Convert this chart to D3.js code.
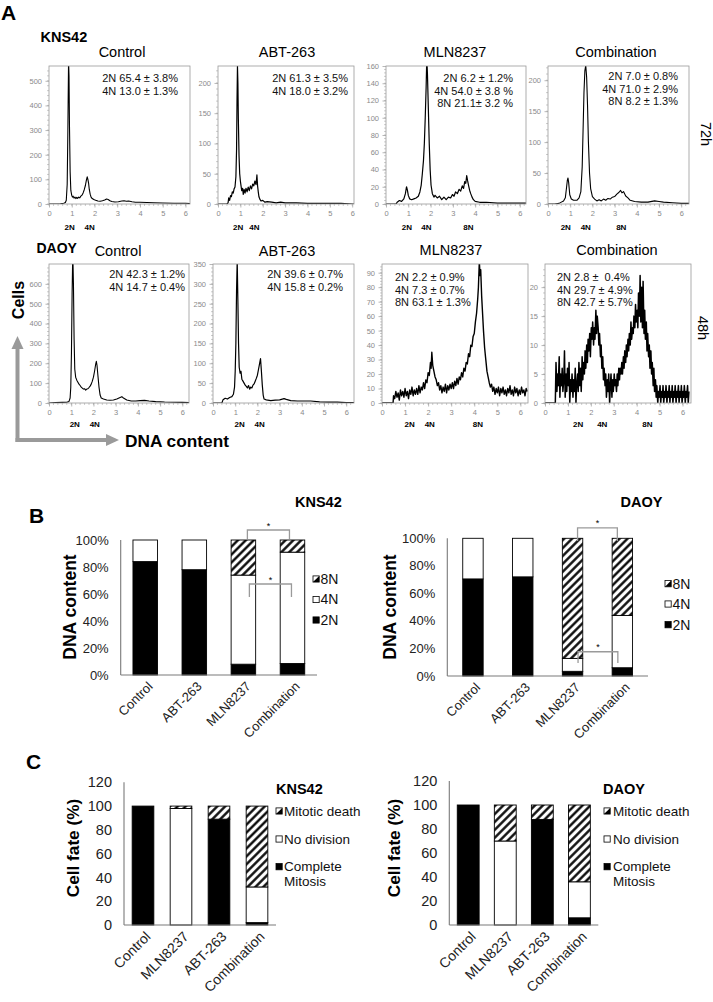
<!DOCTYPE html>
<html>
<head>
<meta charset="utf-8">
<script src="https://cdn.jsdelivr.net/npm/d3@7"></script>
<style>
  body { margin: 0; background: #fff; }
  text { font-family: "Liberation Sans", Arial, sans-serif; white-space: pre; }
</style>
</head>
<body>
<svg id="fig" width="713" height="1002"></svg>
<script>
// ---------- panel A: flow cytometry histograms ----------
const histTitles = ['Control', 'ABT-263', 'MLN8237', 'Combination'];
const cellLines = ['KNS42', 'DAOY'];
const timeLabels = ['72h', '48h'];

// traces as [DNA content, cells]
const knsControlTrace = [[0,0],[0.3,0],[0.5,1],[0.65,3],[0.72,6],[0.76,15],[0.8,80],[0.83,300],[0.86,580],[0.88,520],[0.9,320],[0.93,130],[0.96,55],[1.0,35],[1.03,28],[1.06,32],[1.1,24],[1.14,28],[1.18,22],[1.22,27],[1.26,23],[1.3,28],[1.35,25],[1.4,32],[1.45,36],[1.5,45],[1.55,58],[1.6,75],[1.64,95],[1.68,110],[1.71,100],[1.74,85],[1.77,60],[1.81,40],[1.85,28],[1.9,22],[1.97,18],[2.05,15],[2.15,12],[2.25,11],[2.35,13],[2.45,16],[2.53,20],[2.6,18],[2.68,13],[2.76,10],[2.9,8],[3.05,9],[3.2,12],[3.3,13],[3.4,11],[3.5,12],[3.65,9],[3.8,7],[4.0,7],[4.3,6],[4.6,5],[5.0,4],[5.5,3],[6.0,3],[6.2,2]];
const knsAbtTrace = [[0,0],[0.4,0],[0.45,2],[0.48,10],[0.52,6],[0.56,14],[0.6,12],[0.64,20],[0.68,18],[0.72,25],[0.76,28],[0.8,45],[0.83,90],[0.85,170],[0.87,228],[0.89,200],[0.91,140],[0.94,80],[0.97,50],[1.0,38],[1.03,30],[1.06,22],[1.1,26],[1.13,16],[1.17,24],[1.21,18],[1.25,26],[1.3,20],[1.35,28],[1.4,22],[1.45,30],[1.5,25],[1.55,33],[1.6,30],[1.65,38],[1.7,32],[1.74,48],[1.77,30],[1.8,20],[1.83,12],[1.87,8],[1.92,5],[2.0,6],[2.1,3],[2.2,4],[2.4,3],[2.6,2],[2.8,3],[3.0,2],[3.2,2],[3.5,2],[4.0,1],[4.5,1],[5.0,1],[5.5,1],[6.0,0],[6.08,0]];
const knsMlnTrace = [[0,0],[0.45,0],[0.5,2],[0.6,4],[0.7,3],[0.8,6],[0.87,12],[0.92,20],[0.96,16],[1.0,10],[1.06,6],[1.15,5],[1.25,6],[1.35,7],[1.45,9],[1.52,14],[1.58,22],[1.63,35],[1.68,50],[1.72,70],[1.76,100],[1.8,135],[1.83,170],[1.86,150],[1.9,110],[1.94,70],[1.98,40],[2.02,22],[2.08,12],[2.15,8],[2.2,10],[2.3,7],[2.4,9],[2.5,5],[2.6,8],[2.7,5],[2.8,8],[2.9,7],[2.98,11],[3.05,9],[3.12,14],[3.2,12],[3.28,17],[3.35,15],[3.42,21],[3.48,18],[3.53,26],[3.58,24],[3.62,33],[3.66,27],[3.7,22],[3.75,16],[3.8,12],[3.86,8],[3.92,5],[4.0,3],[4.2,2],[4.5,2],[5.0,1],[5.5,1],[6.0,1],[6.28,1]];
const knsComboTrace = [[0,0],[0.3,0],[0.5,1],[0.6,3],[0.7,5],[0.78,10],[0.83,25],[0.87,38],[0.9,42],[0.93,35],[0.98,15],[1.05,8],[1.15,6],[1.3,6],[1.4,10],[1.48,20],[1.54,60],[1.58,120],[1.62,180],[1.66,215],[1.7,224],[1.74,205],[1.78,160],[1.82,100],[1.87,50],[1.92,25],[2.0,12],[2.1,8],[2.2,5],[2.3,7],[2.4,5],[2.5,8],[2.6,6],[2.7,9],[2.8,8],[2.9,11],[3.0,12],[3.1,16],[3.2,19],[3.27,22],[3.33,18],[3.4,20],[3.5,13],[3.6,10],[3.7,6],[3.9,4],[4.2,3],[4.5,3],[4.8,5],[5.0,4],[5.2,3],[5.6,2],[6.0,1],[6.35,1]];
const daoyControlTrace = [[0,0],[0.3,2],[0.6,3],[0.8,4],[0.9,8],[0.95,25],[0.98,80],[1.01,250],[1.04,550],[1.07,760],[1.1,600],[1.13,320],[1.16,170],[1.2,130],[1.25,115],[1.3,105],[1.35,95],[1.4,88],[1.45,80],[1.5,75],[1.55,70],[1.6,72],[1.65,65],[1.7,70],[1.75,72],[1.8,78],[1.85,85],[1.9,95],[1.95,110],[2.0,130],[2.05,160],[2.1,195],[2.13,210],[2.16,190],[2.2,140],[2.25,80],[2.3,40],[2.35,25],[2.45,20],[2.6,15],[2.75,14],[2.9,15],[3.05,20],[3.2,28],[3.28,32],[3.35,25],[3.5,15],[3.7,10],[3.9,10],[4.1,12],[4.3,13],[4.5,10],[4.8,7],[5.2,5],[5.6,4],[6.0,3],[6.3,2]];
const daoyAbtTrace = [[0,0],[0.4,0],[0.45,8],[0.55,12],[0.65,10],[0.75,14],[0.85,16],[0.92,22],[0.97,40],[1.0,80],[1.03,150],[1.06,280],[1.09,360],[1.12,260],[1.15,150],[1.18,90],[1.22,75],[1.26,80],[1.3,60],[1.35,55],[1.4,50],[1.45,45],[1.5,42],[1.55,38],[1.6,44],[1.65,35],[1.7,40],[1.75,38],[1.8,45],[1.85,48],[1.9,55],[1.95,62],[2.0,70],[2.05,85],[2.1,100],[2.14,112],[2.18,80],[2.22,45],[2.26,20],[2.3,10],[2.4,8],[2.6,6],[2.8,7],[3.0,8],[3.2,11],[3.3,9],[3.5,6],[3.8,5],[4.1,5],[4.4,5],[4.8,3],[5.2,2],[5.6,2],[6.0,1],[6.35,1]];
const daoyMlnTrace = [[0,0],[0.48,0],[0.5,5],[0.55,3],[0.6,8],[0.65,4],[0.7,7],[0.75,2],[0.8,9],[0.85,5],[0.9,8],[0.95,4],[1.0,10],[1.05,5],[1.1,8],[1.15,3],[1.2,9],[1.25,6],[1.3,11],[1.35,5],[1.4,9],[1.45,6],[1.5,10],[1.55,6],[1.6,12],[1.65,7],[1.7,11],[1.75,9],[1.8,14],[1.85,10],[1.9,16],[1.95,14],[2.0,21],[2.05,19],[2.1,28],[2.13,24],[2.16,35],[2.2,26],[2.25,22],[2.3,18],[2.35,16],[2.4,12],[2.45,14],[2.5,9],[2.55,12],[2.6,7],[2.65,11],[2.7,8],[2.75,13],[2.8,7],[2.85,12],[2.9,9],[2.95,13],[3.0,10],[3.05,14],[3.1,10],[3.15,15],[3.2,12],[3.25,17],[3.3,13],[3.35,18],[3.4,16],[3.45,21],[3.5,18],[3.55,24],[3.6,22],[3.65,28],[3.7,27],[3.75,34],[3.8,32],[3.85,40],[3.9,39],[3.95,46],[4.0,48],[4.05,56],[4.1,62],[4.15,72],[4.18,80],[4.22,98],[4.25,88],[4.28,92],[4.32,74],[4.36,62],[4.4,50],[4.45,38],[4.5,30],[4.55,22],[4.6,18],[4.65,14],[4.7,11],[4.75,13],[4.8,8],[4.85,11],[4.9,6],[4.95,10],[5.0,7],[5.05,11],[5.1,5],[5.15,10],[5.2,7],[5.25,11],[5.3,6],[5.35,9],[5.4,5],[5.45,10],[5.5,7],[5.55,12],[5.6,6],[5.65,9],[5.7,5],[5.75,11],[5.8,7],[5.85,10],[5.9,5],[5.95,9],[6.0,6],[6.05,11],[6.1,7],[6.15,9],[6.2,5],[6.25,10],[6.3,8]];
const daoyComboTrace = [[0,0],[0.45,0],[0.48,7],[0.52,2],[0.55,5],[0.58,3],[0.62,8],[0.65,1],[0.68,5],[0.72,3],[0.75,6],[0.78,2],[0.82,4],[0.85,9],[0.88,1],[0.92,5],[0.95,2],[0.98,6],[1.02,3],[1.05,7],[1.08,0],[1.12,4],[1.15,2],[1.18,5],[1.22,1],[1.25,4],[1.28,2],[1.32,6],[1.35,0],[1.38,3],[1.42,5],[1.45,2],[1.48,7],[1.52,3],[1.55,6],[1.58,2],[1.62,8],[1.65,4],[1.68,7],[1.72,5],[1.75,9],[1.78,6],[1.82,10],[1.85,7],[1.88,11],[1.92,9],[1.95,12],[1.98,8],[2.02,13],[2.05,11],[2.08,14],[2.12,10],[2.15,13],[2.18,11],[2.22,16],[2.25,12],[2.28,15],[2.32,13],[2.35,10],[2.38,12],[2.42,8],[2.45,10],[2.48,6],[2.52,8],[2.55,4],[2.58,6],[2.62,3],[2.65,5],[2.68,1],[2.72,4],[2.75,2],[2.78,5],[2.82,0],[2.85,3],[2.88,5],[2.92,1],[2.95,4],[2.98,2],[3.02,5],[3.05,3],[3.08,4],[3.12,2],[3.15,5],[3.18,3],[3.22,6],[3.25,4],[3.28,6],[3.32,5],[3.35,7],[3.38,5],[3.42,8],[3.45,6],[3.48,9],[3.52,7],[3.55,10],[3.58,8],[3.62,11],[3.65,9],[3.68,12],[3.72,10],[3.75,14],[3.78,11],[3.82,13],[3.85,12],[3.88,15],[3.92,13],[3.95,17],[3.98,14],[4.02,16],[4.05,13],[4.08,19],[4.12,15],[4.15,22],[4.18,14],[4.22,20],[4.25,13],[4.28,21],[4.32,12],[4.35,16],[4.38,11],[4.42,14],[4.45,9],[4.48,12],[4.52,8],[4.55,10],[4.58,6],[4.62,9],[4.65,5],[4.68,7],[4.72,3],[4.75,6],[4.78,2],[4.82,4],[4.85,1],[4.88,3],[4.92,0],[4.95,2],[4.98,1],[5.02,3],[5.05,0],[5.08,2],[5.12,1],[5.15,3],[5.18,0],[5.22,2],[5.25,1],[5.28,3],[5.32,0],[5.35,2],[5.38,1],[5.42,3],[5.45,0],[5.48,2],[5.52,1],[5.55,3],[5.58,0],[5.62,2],[5.65,1],[5.68,3],[5.72,0],[5.75,2],[5.78,1],[5.82,3],[5.85,0],[5.88,2],[5.92,1],[5.95,3],[5.98,0],[6.02,2],[6.05,1],[6.08,3],[6.12,0],[6.15,2],[6.18,1],[6.22,3],[6.25,0],[6.28,2]];

const histStats = [
  ['2N 65.4 ± 3.8%', '4N 13.0 ± 1.3%'],
  ['2N 61.3 ± 3.5%', '4N 18.0 ± 3.2%'],
  ['2N 6.2 ± 1.2%', '4N 54.0 ± 3.8 %', '8N 21.1± 3.2 %'],
  ['2N 7.0 ± 0.8%', '4N 71.0 ± 2.9%', '8N 8.2 ± 1.3%'],
  ['2N 42.3 ± 1.2%', '4N 14.7 ± 0.4%'],
  ['2N 39.6 ± 0.7%', '4N 15.8 ± 0.2%'],
  ['2N 2.2 ± 0.9%', '4N 7.3 ± 0.7%', '8N 63.1 ± 1.3%'],
  ['2N 2.8 ±  0.4%', '4N 29.7 ± 4.9%', '8N 42.7 ± 5.7%']
];
const histYTicks = [
  [0, 100, 200, 300, 400, 500],
  [0, 50, 100, 150, 200],
  [0, 20, 40, 60, 80, 100, 120, 140, 160],
  [0, 50, 100, 150, 200],
  [0, 100, 200, 300, 400, 500, 600],
  [0, 50, 100, 150, 200, 250, 300, 350],
  [0, 10, 20, 30, 40, 50, 60, 70, 80, 90],
  [0, 5, 10, 15, 20]
];
const histYMax = [560, 228, 160, 223, 700, 350, 96, 24];
const histXMax = [6.2, 6.08, 6.28, 6.35, 6.3, 6.35, 6.33, 6.37];
const histXTicks = [0, 1, 2, 3, 4, 5, 6];
const histPeaks = [
  [['2N', 0.91], ['4N', 1.79]],
  [['2N', 0.9], ['4N', 1.63]],
  [['2N', 0.94], ['4N', 1.81], ['8N', 3.7]],
  [['2N', 0.8], ['4N', 1.7], ['8N', 3.3]],
  [['2N', 1.16], ['4N', 2.06]],
  [['2N', 1.2], ['4N', 2.1]],
  [['2N', 1.2], ['4N', 2.07], ['8N', 4.16]],
  [['2N', 1.45], ['4N', 2.5], ['8N', 4.47]]
];

// ---------- panel B: DNA content (%) ----------
const bCategories = ['Control', 'ABT-263', 'MLN8237', 'Combination'];
const bKeys = ['2N', '4N', '8N'];
const knsB2N = [84, 78, 8, 8.5];
const knsB4N = [16, 22, 66, 82.5];
const knsB8N = [0, 0, 26, 9];
const daoyB2N = [70.5, 72, 3.4, 6];
const daoyB4N = [29.5, 28, 9.4, 38];
const daoyB8N = [0, 0, 87.2, 56];
const bYTicks = [0, 20, 40, 60, 80, 100];

// ---------- panel C: cell fate (%) ----------
const cCategories = ['Control', 'MLN8237', 'ABT-263', 'Combination'];
const cKeys = ['Complete Mitosis', 'No division', 'Mitotic death'];
const knsCComplete = [100, 0, 89, 2];
const knsCNoDivision = [0, 98, 0, 30];
const knsCDeath = [0, 2, 11, 68];
const daoyCComplete = [100, 0, 88, 6];
const daoyCNoDivision = [0, 70, 0, 30];
const daoyCDeath = [0, 30, 12, 64];
const cYTicks = [0, 20, 40, 60, 80, 100, 120];

const svg = d3.select('#fig');
const FONT = '"Liberation Sans", Arial, sans-serif';

// hatch pattern for 8N / mitotic death
const defs = svg.append('defs');
defs.append('pattern')
  .attr('id', 'hatch')
  .attr('patternUnits', 'userSpaceOnUse')
  .attr('width', 5.6).attr('height', 5.6)
  .attr('patternTransform', 'rotate(45)')
  .call(p => {
    p.append('rect').attr('width', 5.6).attr('height', 5.6).attr('fill', '#fff');
    p.append('line').attr('x1', 1.4).attr('y1', 0).attr('x2', 1.4).attr('y2', 5.6)
      .attr('stroke', '#000').attr('stroke-width', 2.3);
  });

// ---------- panel A drawing ----------
const boxes = [
  { x0: 49, x1: 190, y0: 66, y1: 204 },
  { x0: 218, x1: 354, y0: 66, y1: 204 },
  { x0: 386, x1: 526, y0: 66, y1: 204 },
  { x0: 548, x1: 689, y0: 66, y1: 204 },
  { x0: 49, x1: 189, y0: 264, y1: 403 },
  { x0: 213, x1: 354, y0: 264, y1: 403 },
  { x0: 382, x1: 528, y0: 264, y1: 403 },
  { x0: 545, x1: 691, y0: 264, y1: 403 }
];
const statsX = [178, 348, 513, 678, 185, 343, 395, 557];
const statsY = [82, 82, 82, 80, 278, 278, 281, 281];
const statsAnchor = ['end', 'end', 'end', 'end', 'end', 'end', 'start', 'start'];
const titleX = [122, 287, 455, 616, 118, 287, 451, 617];
const titleY = [57, 57, 56.5, 56.5, 256, 256, 255, 255];
const traceWidth = [1.1, 1.2, 1.2, 1.1, 1.1, 1.2, 1.4, 1.5];
const traces = [knsControlTrace, knsAbtTrace, knsMlnTrace, knsComboTrace,
  daoyControlTrace, daoyAbtTrace, daoyMlnTrace, daoyComboTrace];

traces.forEach((trace, i) => {
  const b = boxes[i];
  const g = svg.append('g');
  const x = d3.scaleLinear().domain([0, histXMax[i]]).range([b.x0, b.x1]);
  const y = d3.scaleLinear().domain([0, histYMax[i]]).range([b.y1, b.y0]);

  defs.append('clipPath').attr('id', 'clip' + i)
    .append('rect').attr('x', b.x0).attr('y', b.y0)
    .attr('width', b.x1 - b.x0).attr('height', b.y1 - b.y0);

  // minor ticks
  const yt = histYTicks[i];
  const yStep = yt[1] - yt[0];
  const yMinor = d3.range(0, histYMax[i], yStep / 5);
  g.append('g').selectAll('line').data(yMinor).join('line')
    .attr('x1', b.x0 - 2).attr('x2', b.x0)
    .attr('y1', d => y(d)).attr('y2', d => y(d))
    .attr('stroke', '#aaa').attr('stroke-width', 0.6);
  const xMinor = d3.range(0, histXMax[i], 0.2);
  g.append('g').selectAll('line').data(xMinor).join('line')
    .attr('x1', d => x(d)).attr('x2', d => x(d))
    .attr('y1', b.y1).attr('y2', b.y1 + 2)
    .attr('stroke', '#aaa').attr('stroke-width', 0.6);

  // axes
  const yAxis = d3.axisLeft(y).tickValues(yt).tickSize(3.5).tickPadding(3.5).tickFormat(d3.format('d'));
  const yg = g.append('g').attr('transform', `translate(${b.x0},0)`).call(yAxis);
  const xAxis = d3.axisBottom(x).tickValues(histXTicks).tickSize(3.5).tickPadding(3).tickFormat(d3.format('d'));
  const xg = g.append('g').attr('transform', `translate(0,${b.y1})`).call(xAxis);
  [yg, xg].forEach(a => {
    a.select('.domain').remove();
    a.selectAll('line').attr('stroke', '#999').attr('stroke-width', 0.7);
    a.selectAll('text').attr('fill', '#8a8a8a').attr('font-size', 7.5).attr('font-family', FONT);
  });

  // trace
  g.append('path')
    .datum(trace)
    .attr('clip-path', `url(#clip${i})`)
    .attr('fill', 'none')
    .attr('stroke', '#000')
    .attr('stroke-width', traceWidth[i])
    .attr('stroke-linejoin', 'round')
    .attr('d', d3.line().x(d => x(d[0])).y(d => y(d[1])));

  // frame
  g.append('rect')
    .attr('x', b.x0).attr('y', b.y0)
    .attr('width', b.x1 - b.x0).attr('height', b.y1 - b.y0)
    .attr('fill', 'none').attr('stroke', '#999').attr('stroke-width', 0.8);

  // statistics
  histStats[i].forEach((s, k) => {
    g.append('text')
      .attr('x', statsX[i]).attr('y', statsY[i] + k * 12.5)
      .attr('text-anchor', statsAnchor[i])
      .attr('font-size', 11).attr('fill', '#111')
      .text(s);
  });

  // title
  g.append('text')
    .attr('x', titleX[i]).attr('y', titleY[i])
    .attr('text-anchor', 'middle')
    .attr('font-size', 14.5)
    .text(histTitles[i % 4]);

  // peak labels
  g.append('g').selectAll('text').data(histPeaks[i]).join('text')
    .attr('x', d => x(d[1])).attr('y', b.y1 + (i < 4 ? 26 : 23.5))
    .attr('text-anchor', 'middle')
    .attr('font-size', 8).attr('font-weight', 'bold')
    .text(d => d[0]);
});

// panel A labels
svg.append('text').attr('x', 1).attr('y', 20).attr('font-size', 21).attr('font-weight', 'bold').text('A');
svg.append('text').attr('x', 40.5).attr('y', 42).attr('font-size', 14.5).attr('font-weight', 'bold').text(cellLines[0]);
svg.append('text').attr('x', 36.5).attr('y', 253).attr('font-size', 14).attr('font-weight', 'bold').text(cellLines[1]);
svg.append('text').attr('transform', 'translate(701,134) rotate(90)')
  .attr('text-anchor', 'middle').attr('font-size', 14.5).text(timeLabels[0]);
svg.append('text').attr('transform', 'translate(697.5,328) rotate(90)')
  .attr('text-anchor', 'middle').attr('font-size', 14.5).text(timeLabels[1]);

// gray arrows
const arrow = svg.append('g').attr('fill', '#9a9a9a').attr('stroke', '#9a9a9a');
arrow.append('line').attr('x1', 17.5).attr('y1', 442).attr('x2', 17.5).attr('y2', 347).attr('stroke-width', 4);
arrow.append('line').attr('x1', 15.5).attr('y1', 440).attr('x2', 108).attr('y2', 440).attr('stroke-width', 4);
arrow.append('polygon').attr('points', '17.5,336 11.5,349 23.5,349').attr('stroke', 'none');
arrow.append('polygon').attr('points', '119,440 106,434 106,446').attr('stroke', 'none');
svg.append('text').attr('transform', 'translate(24,300) rotate(-90)')
  .attr('text-anchor', 'middle').attr('font-size', 16).attr('font-weight', 'bold').text('Cells');
svg.append('text').attr('x', 125).attr('y', 446.5)
  .attr('font-size', 17.3).attr('font-weight', 'bold').text('DNA content');

// ---------- stacked bar charts (B, C) ----------
function drawStack(o) {
  const g = svg.append('g');
  const x = d3.scaleBand().domain(o.cats).range([o.xa, o.xb])
    .paddingInner(o.pi).paddingOuter(o.po);
  const y = d3.scaleLinear().domain([0, o.yMax]).range([o.y0, o.yTop]);
  const rows = o.cats.map((c, i) => {
    const r = { cat: c };
    o.keys.forEach((k, j) => { r[k] = o.series[j][i]; });
    return r;
  });
  const stacked = d3.stack().keys(o.keys)(rows);
  const fills = ['#000', '#fff', 'url(#hatch)'];

  stacked.forEach((layer, j) => {
    g.append('g').selectAll('rect')
      .data(layer.filter(d => d[1] - d[0] > 0))
      .join('rect')
      .attr('x', d => x(d.data.cat))
      .attr('width', x.bandwidth())
      .attr('y', d => y(d[1]))
      .attr('height', d => y(d[0]) - y(d[1]))
      .attr('fill', fills[j])
      .attr('stroke', '#000')
      .attr('stroke-width', 0.9);
  });

  // axes lines
  g.append('line').attr('x1', o.xa).attr('x2', o.xa).attr('y1', y(0)).attr('y2', y(o.yMax))
    .attr('stroke', '#7a7a7a').attr('stroke-width', 1.1);
  g.append('line').attr('x1', o.xa).attr('x2', o.xb).attr('y1', y(0)).attr('y2', y(0))
    .attr('stroke', '#7a7a7a').attr('stroke-width', 1.1);

  // tick labels
  g.append('g').selectAll('text').data(o.yTicks).join('text')
    .attr('x', o.xa - 12).attr('y', d => y(d))
    .attr('dy', '0.35em').attr('text-anchor', 'end')
    .attr('font-size', o.tickFont).attr('fill', '#222')
    .text(d => d + o.suffix);
  g.append('g').selectAll('text').data(o.cats).join('text')
    .attr('transform', d => `translate(${x(d) + x.bandwidth() / 2 + 5},${y(0) + 9}) rotate(-45)`)
    .attr('text-anchor', 'end').attr('dy', '0.35em')
    .attr('font-size', o.catFont).attr('fill', '#222')
    .text(d => d);

  // axis title
  g.append('text')
    .attr('transform', `translate(${o.titleX},${o.titleY}) rotate(-90)`)
    .attr('text-anchor', 'middle').attr('font-size', o.titleFont).attr('font-weight', 'bold')
    .text(o.title);

  // cell line name
  g.append('text').attr('x', o.nameX).attr('y', o.nameY)
    .attr('font-size', 14.5).attr('font-weight', 'bold').text(o.name);

  // legend
  o.legend.forEach((item, k) => {
    const ly = o.legY[k];
    const s = 6.2;
    const lg = g.append('g');
    lg.append('rect').attr('x', o.legX).attr('y', ly - s / 2).attr('width', s).attr('height', s)
      .attr('fill', item.fill === 'black' ? '#000' : '#fff').attr('stroke', '#000').attr('stroke-width', 0.8);
    if (item.fill === 'hatch') {
      lg.append('polygon')
        .attr('points', `${o.legX + s},${ly - s / 2} ${o.legX + s},${ly + s / 2} ${o.legX},${ly + s / 2}`)
        .attr('fill', '#000');
    }
    item.lines.forEach((t, m) => {
      lg.append('text').attr('x', o.legX + o.legGap).attr('y', ly + m * 15)
        .attr('dy', '0.35em').attr('font-size', o.legFont).attr('fill', '#111').text(t);
    });
  });

  // significance brackets
  (o.brackets || []).forEach(br => {
    const xl = x(br.from) + x.bandwidth() / 2 + br.dl;
    const xr = x(br.to) + x.bandwidth() / 2 + br.dr;
    g.append('path')
      .attr('d', `M${xl},${y(br.bottom)} V${y(br.top)} H${xr} V${y(br.bottom)}`)
      .attr('fill', 'none').attr('stroke', '#9a9a9a').attr('stroke-width', 1.3);
    g.append('text').attr('x', (xl + xr) / 2).attr('y', y(br.top) - 1.5)
      .attr('text-anchor', 'middle').attr('font-size', 9).text('*');
  });
}

const bLegend = [
  { fill: 'hatch', lines: ['8N'] },
  { fill: 'white', lines: ['4N'] },
  { fill: 'black', lines: ['2N'] }
];
const cLegend = [
  { fill: 'hatch', lines: ['Mitotic death'] },
  { fill: 'white', lines: ['No division'] },
  { fill: 'black', lines: ['Complete', 'Mitosis'] }
];

drawStack({
  cats: bCategories, keys: bKeys, series: [knsB2N, knsB4N, knsB8N],
  xa: 120.7, xb: 317, pi: 0.5, po: 0.25, yMax: 100, y0: 675, yTop: 540,
  yTicks: bYTicks, suffix: '%', tickFont: 13, catFont: 13,
  title: 'DNA content', titleX: 76, titleY: 607, titleFont: 17.5,
  name: cellLines[0], nameX: 295, nameY: 507,
  legend: bLegend, legX: 313, legY: [579, 599.5, 620], legGap: 7.5, legFont: 14,
  brackets: [
    { from: 'MLN8237', to: 'Combination', top: 107.4, bottom: 100.7, dl: 4, dr: -3 },
    { from: 'MLN8237', to: 'Combination', top: 67.4, bottom: 57.8, dl: 6, dr: -1 }
  ]
});
drawStack({
  cats: bCategories, keys: bKeys, series: [daoyB2N, daoyB4N, daoyB8N],
  xa: 447.3, xb: 648, pi: 0.59, po: 0.31, yMax: 100, y0: 676, yTop: 538.3,
  yTicks: bYTicks, suffix: '%', tickFont: 13, catFont: 13,
  title: 'DNA content', titleX: 396, titleY: 607, titleFont: 17.5,
  name: cellLines[1], nameX: 620.5, nameY: 507,
  legend: bLegend, legX: 665, legY: [583.7, 604, 624.7], legGap: 7.5, legFont: 14,
  brackets: [
    { from: 'MLN8237', to: 'Combination', top: 107.5, bottom: 98, dl: 5, dr: -5 },
    { from: 'MLN8237', to: 'Combination', top: 17.6, bottom: 9.4, dl: 5.5, dr: -4.5 }
  ]
});
drawStack({
  cats: cCategories, keys: cKeys, series: [knsCComplete, knsCNoDivision, knsCDeath],
  xa: 124, xb: 276, pi: 0.43, po: 0.215, yMax: 120, y0: 925, yTop: 782.3,
  yTicks: cYTicks, suffix: '', tickFont: 14.5, catFont: 14,
  title: 'Cell fate (%)', titleX: 79, titleY: 848, titleFont: 17.2,
  name: cellLines[0], nameX: 276, nameY: 794,
  legend: cLegend, legX: 276, legY: [811, 839, 866.7], legGap: 8, legFont: 13.5
});
drawStack({
  cats: cCategories, keys: cKeys, series: [daoyCComplete, daoyCNoDivision, daoyCDeath],
  xa: 449.3, xb: 598.3, pi: 0.41, po: 0.215, yMax: 120, y0: 925, yTop: 781,
  yTicks: cYTicks, suffix: '', tickFont: 14.5, catFont: 14,
  title: 'Cell fate (%)', titleX: 400, titleY: 848, titleFont: 17.2,
  name: cellLines[1], nameX: 603, nameY: 794,
  legend: cLegend, legX: 604, legY: [811, 839, 866.7], legGap: 9, legFont: 13.5
});

svg.append('text').attr('x', 29).attr('y', 523).attr('font-size', 21).attr('font-weight', 'bold').text('B');
svg.append('text').attr('x', 26).attr('y', 769).attr('font-size', 21).attr('font-weight', 'bold').text('C');
</script>
</body>
</html>
